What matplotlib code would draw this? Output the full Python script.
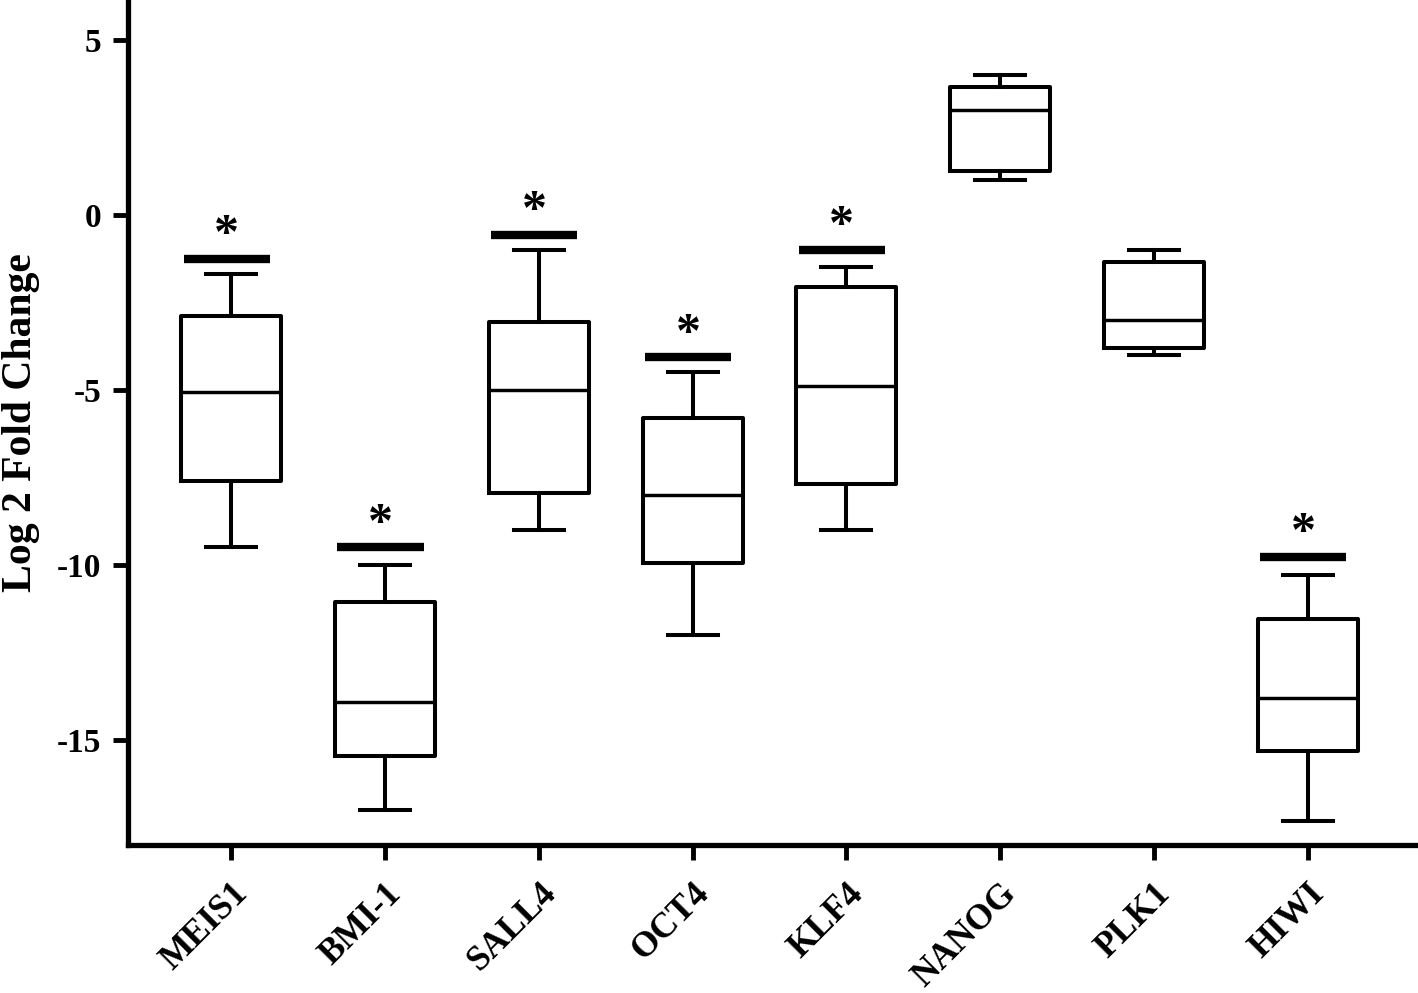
import matplotlib
matplotlib.use("Agg")
import matplotlib.pyplot as plt

genes = ["MEIS1", "BMI-1", "SALL4", "OCT4", "KLF4", "NANOG", "PLK1", "HIWI"]
whislo = [-9.5, -17.0, -9.0, -12.0, -9.0, 1.0, -4.0, -17.3]
q1 = [-7.6, -15.45, -7.95, -9.95, -7.7, 1.25, -3.8, -15.3]
med = [-5.05, -13.9, -5.0, -8.0, -4.9, 3.0, -3.0, -13.8]
q3 = [-2.9, -11.05, -3.05, -5.8, -2.05, 3.65, -1.35, -11.55]
whishi = [-1.7, -10.0, -1.0, -4.5, -1.5, 4.0, -1.0, -10.3]
sig_bar = [-1.25, -9.5, -0.57, -4.07, -1.0, None, None, -9.77]
yticks = [5, 0, -5, -10, -15]

plt.rcParams["font.family"] = ["Liberation Serif", "DejaVu Serif"]
plt.rcParams["font.weight"] = "bold"

fig = plt.figure(figsize=(14.18, 9.93), dpi=100)
ax = fig.add_axes([0.09, 0.149, 0.908, 0.851])

stats = []
for i, g in enumerate(genes):
    stats.append(dict(label=g, whislo=whislo[i], q1=q1[i], med=med[i],
                      q3=q3[i], whishi=whishi[i], fliers=[]))

lw = 2.9
ax.bxp(stats, positions=range(len(genes)), widths=0.65, showfliers=False,
       boxprops=dict(color="black", linewidth=lw),
       medianprops=dict(color="black", linewidth=lw * 0.85),
       whiskerprops=dict(color="black", linewidth=lw),
       capprops=dict(color="black", linewidth=lw))

for i, s in enumerate(sig_bar):
    if s is None:
        continue
    ax.plot([i - 0.31, i + 0.25], [s, s], color="black", linewidth=6, solid_capstyle="butt")
    ax.text(i - 0.03, s + 0.65, "*", ha="center", va="center", fontsize=36,
            fontweight="bold")

ax.set_xlim(-0.675, 7.7)
ax.set_ylim(-18, 6.14)
ax.set_yticks(yticks)
ax.set_yticklabels([str(t) for t in yticks], fontsize=24, fontweight="bold")
ax.set_xticks(range(len(genes)))
ax.set_xticklabels(genes, rotation=45, ha="right", rotation_mode="anchor",
                   fontsize=25.5, fontweight="bold")
ax.set_ylabel("Log 2 Fold Change", fontsize=30, fontweight="bold", labelpad=12)

for side in ["top", "right"]:
    ax.spines[side].set_visible(False)
for side in ["left", "bottom"]:
    ax.spines[side].set_linewidth(3.8)
ax.tick_params(axis="both", direction="out", length=11, width=3.5, pad=8)
ax.tick_params(axis="x", pad=12)

fig.savefig("out.png", dpi=100)
